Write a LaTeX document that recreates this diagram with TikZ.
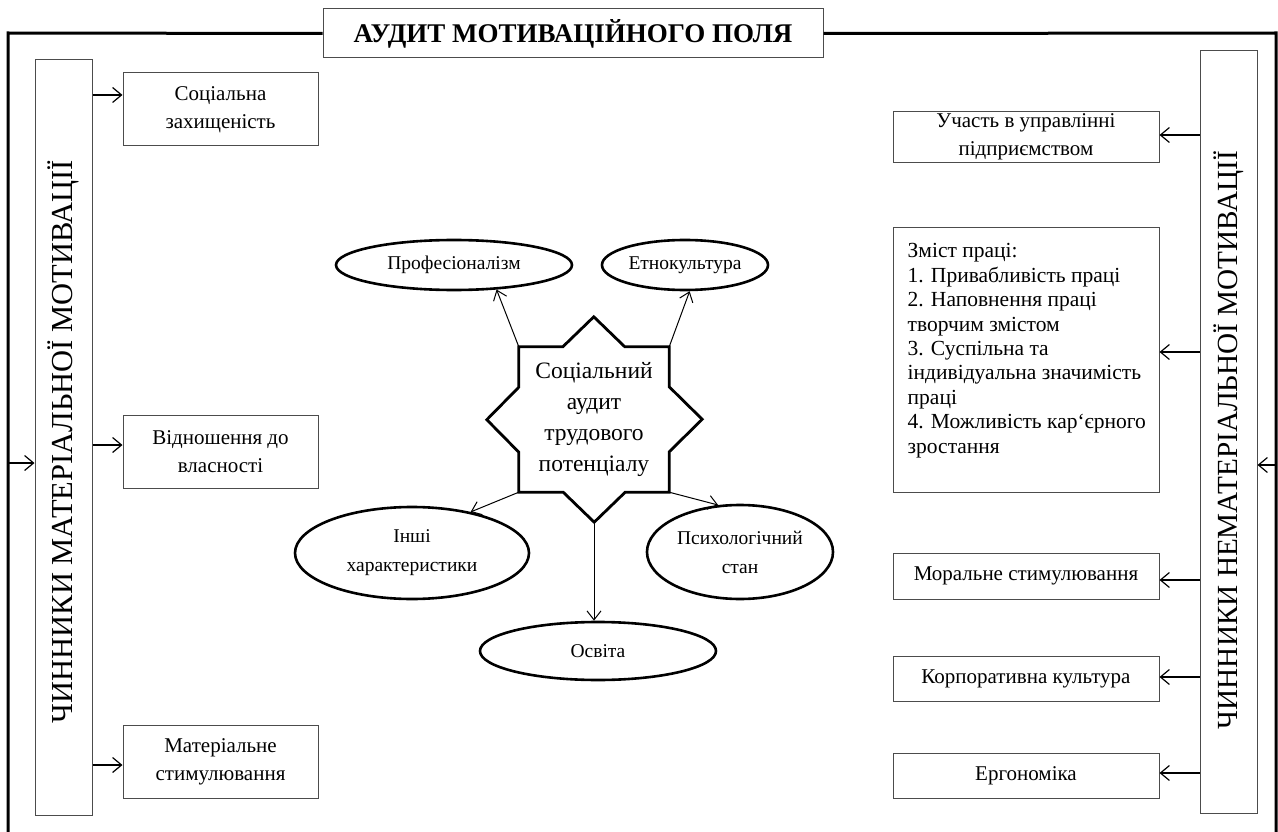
\documentclass[tikz,border=0pt]{standalone}
\usepackage{fontspec}
\setmainfont{Liberation Serif}
\usetikzlibrary{arrows.meta,shapes.geometric}
\begin{document}
\begin{tikzpicture}[x=1pt,y=-1pt,
  frame/.style={line width=3pt},
  box/.style={draw=black!70, line width=1pt, fill=white, inner sep=2pt, align=center, font=\fontsize{21}{28}\selectfont},
  vbox/.style={draw=black!70, line width=1pt, minimum width=57pt, inner sep=0pt},
  vtext/.style={rotate=90, inner sep=0pt},
  ell/.style={draw, ellipse, line width=2.6pt, inner sep=0pt, align=center, font=\fontsize{19.5}{29}\selectfont},
  arr/.style={line width=1.2pt, -{Straight Barb[length=9pt,width=15pt]}},
  arrt/.style={line width=1pt, -{Straight Barb[length=9pt,width=14pt]}},
  startext/.style={align=center, inner sep=0pt, font=\fontsize{23.5}{31}\selectfont},
]
\useasboundingbox (0,0) rectangle (1278,832);

% title and frame
\node[draw=black!70, line width=1pt, fill=white, minimum width=500pt, minimum height=49pt, inner sep=0pt,
      font=\bfseries\fontsize{27}{30}\selectfont] (title) at (573,33.5) {АУДИТ МОТИВАЦІЙНОГО ПОЛЯ};
\coordinate (ftl) at (8,33);
\coordinate (fbl) at (8,834);
\coordinate (ftr) at (1276,33);
\coordinate (fbr) at (1276,834);
\draw[frame] (title.west) -- (ftl) -- (fbl);
\draw[frame] (title.east) -- (ftr) -- (fbr);

% vertical boxes
\node[vbox, minimum height=755pt] (L) at (63.5,437.5) {};
\node[vtext, font=\fontsize{30.5}{33}\selectfont] (Lt) at ([yshift=-4pt]L.center) {ЧИННИКИ МАТЕРІАЛЬНОЇ МОТИВАЦІЇ};
\node[vbox, minimum height=762pt] (R) at (1228.5,432) {};
\node[vtext, font=\fontsize{29.2}{32}\selectfont] (Rt) at ([yshift=-8pt]R.center) {ЧИННИКИ НЕМАТЕРІАЛЬНОЇ МОТИВАЦІЇ};

\coordinate (fl) at (8,463);
\coordinate (fr) at (1276,465);
\draw[arr] (fl) -- (fl -| L.west);
\draw[arr] (fr) -- (fr -| R.east);

% left boxes
\node[box, minimum width=195pt, minimum height=73pt] (s1) at (220.5,109.5) {Соціальна\\захищеність};
\node[box, minimum width=195pt, minimum height=73pt] (s2) at (220.5,451.5) {Відношення до\\власності};
\node[box, minimum width=195pt, minimum height=73pt] (s3) at (220.5,761.5) {Матеріальне\\стимулювання};
\coordinate (y1) at (0,95);
\coordinate (y2) at (0,445);
\coordinate (y3) at (0,765);
\draw[arr] (L.east |- y1) -- (s1.west |- y1);
\draw[arr] (L.east |- y2) -- (s2.west |- y2);
\draw[arr] (L.east |- y3) -- (s3.west |- y3);

% right boxes
\node[box, minimum width=266pt, minimum height=50pt] (r1) at (1026,137) {Участь в управлінні\\підприємством};
\node[box, minimum width=266pt, minimum height=265pt] (r2) at (1026,359.5) {};
\node[anchor=north west, align=left, inner sep=0pt, font=\fontsize{21.5}{24.4}\selectfont] (r2t)
  at ([xshift=15pt, yshift=-17pt]r2.north west)
  {Зміст праці:\\1. Привабливість праці\\2. Наповнення праці\\творчим змістом\\3. Суспільна та\\індивідуальна значимість\\праці\\4. Можливість кар‘єрного\\зростання};
\node[box, minimum width=266pt, minimum height=46pt] (r3) at (1026,576) {Моральне стимулювання};
\node[box, minimum width=266pt, minimum height=45pt] (r4) at (1026,678.5) {Корпоративна культура};
\node[box, minimum width=266pt, minimum height=45pt] (r5) at (1026,775.5) {Ергономіка};
\coordinate (z1) at (0,135);
\coordinate (z2) at (0,352);
\coordinate (z3) at (0,580);
\coordinate (z4) at (0,677);
\coordinate (z5) at (0,773);
\draw[arr] (R.west |- z1) -- (r1.east |- z1);
\draw[arr] (R.west |- z2) -- (r2.east |- z2);
\draw[arr] (R.west |- z3) -- (r3.east |- z3);
\draw[arr] (R.west |- z4) -- (r4.east |- z4);
\draw[arr] (R.west |- z5) -- (r5.east |- z5);

% star
\node[startext, minimum width=150pt, minimum height=145pt] (st) at (594,419.5) {Соціальний\\аудит\\трудового\\потенціалу};
\draw[line width=2.8pt, line join=miter]
  (st.north west) -- ++(44,0) -- ++(31,-30) -- ++(31,30) -- (st.north east)
  -- ++(0,40) -- ++(33,32.5) -- ++(-33,32.5) -- (st.south east)
  -- ++(-44,0) -- ++(-31,30) -- ++(-31,-30) -- (st.south west)
  -- ++(0,-40) -- ++(-32,-32.5) -- ++(32,-32.5) -- cycle;
\coordinate (tip) at ([yshift=-30pt]st.south);

% ellipses
\node[ell, minimum width=236pt, minimum height=50pt] (e1) at (454,265) {Професіоналізм};
\node[ell, minimum width=166pt, minimum height=50pt] (e2) at (685,265) {Етнокультура};
\node[ell, minimum width=234pt, minimum height=92pt] (e3) at (412,553) {Інші\\характеристики};
\node[ell, minimum width=186pt, minimum height=94pt] (e4) at (740,552) {Психологічний\\стан};
\node[ell, minimum width=236pt, minimum height=58pt] (e5) at (598,651) {Освіта};

\draw[arrt] (st.north west) -- (e1.-30);
\draw[arrt] (st.north east) -- (e2.-80);
\draw[arrt] (st.south west) -- (e3.35);
\draw[arrt] (st.south east) -- (e4.115);
\draw[arrt] (tip) -- (tip |- e5.north);
\end{tikzpicture}
\end{document}
